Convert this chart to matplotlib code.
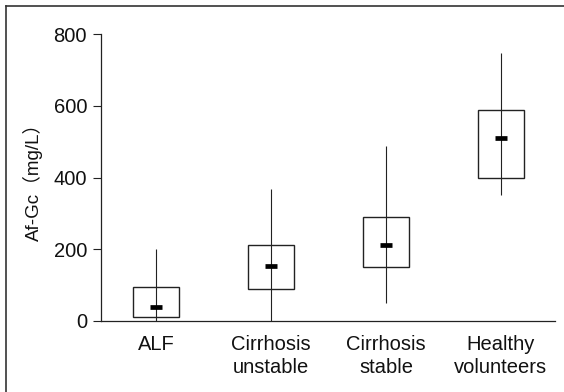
import numpy as np
import matplotlib
matplotlib.use("Agg")
from matplotlib import pyplot as plt
from matplotlib.lines import Line2D

plt.rcParams['font.family'] = ['Liberation Sans', 'Noto Sans CJK SC', 'DejaVu Sans']

# data (mg/L)
groups = ['ALF', 'Cirrhosis\nunstable', 'Cirrhosis\nstable', 'Healthy\nvolunteers']
whisker_low = [0, 0, 50, 350]
box_low = [12, 90, 150, 398]
median = [40, 152, 212, 510]
box_high = [95, 213, 290, 588]
whisker_high = [200, 368, 488, 747]
y_ticks = [0, 200, 400, 600, 800]

fig = plt.figure(figsize=(5.64, 3.92), dpi=100)
ax = fig.add_axes([101 / 564, 71 / 392, 454 / 564, 287 / 392])

x = np.arange(len(groups))
ink = '#222222'

# whiskers
ax.vlines(x, whisker_low, whisker_high, color=ink, lw=0.8, zorder=2)
# boxes
ax.bar(x, np.array(box_high) - np.array(box_low), bottom=box_low, width=0.4,
       facecolor='none', edgecolor=ink, lw=1.0, zorder=3)
# medians
ax.hlines(median, x - 0.055, x + 0.055, color='black', lw=3.4, zorder=4)

ax.set_xlim(-0.48, 3.47)
ax.set_ylim(0, 800)
ax.set_yticks(y_ticks)
ax.set_xticks(x)
ax.set_xticklabels(groups, linespacing=1.3)
ax.tick_params(axis='x', length=0, pad=10, labelsize=14.5, colors='#111111')
ax.tick_params(axis='y', length=6, width=0.8, pad=4, labelsize=14.5, colors=ink, labelcolor='#111111')
ax.set_ylabel('Af-Gc（mg/L）', fontsize=13.5, labelpad=8, color='#111111')

for side in ['top', 'right']:
    ax.spines[side].set_visible(False)
for side in ['left', 'bottom']:
    ax.spines[side].set_color(ink)
    ax.spines[side].set_linewidth(0.9)

# page frame around the figure (top and left edges visible)
fig.add_artist(Line2D([6 / 564, 1.0], [386 / 392, 386 / 392], color='#333333', lw=1.2))
fig.add_artist(Line2D([6 / 564, 6 / 564], [0, 386 / 392], color='#333333', lw=1.2))

plt.savefig('out.png', dpi=100)
